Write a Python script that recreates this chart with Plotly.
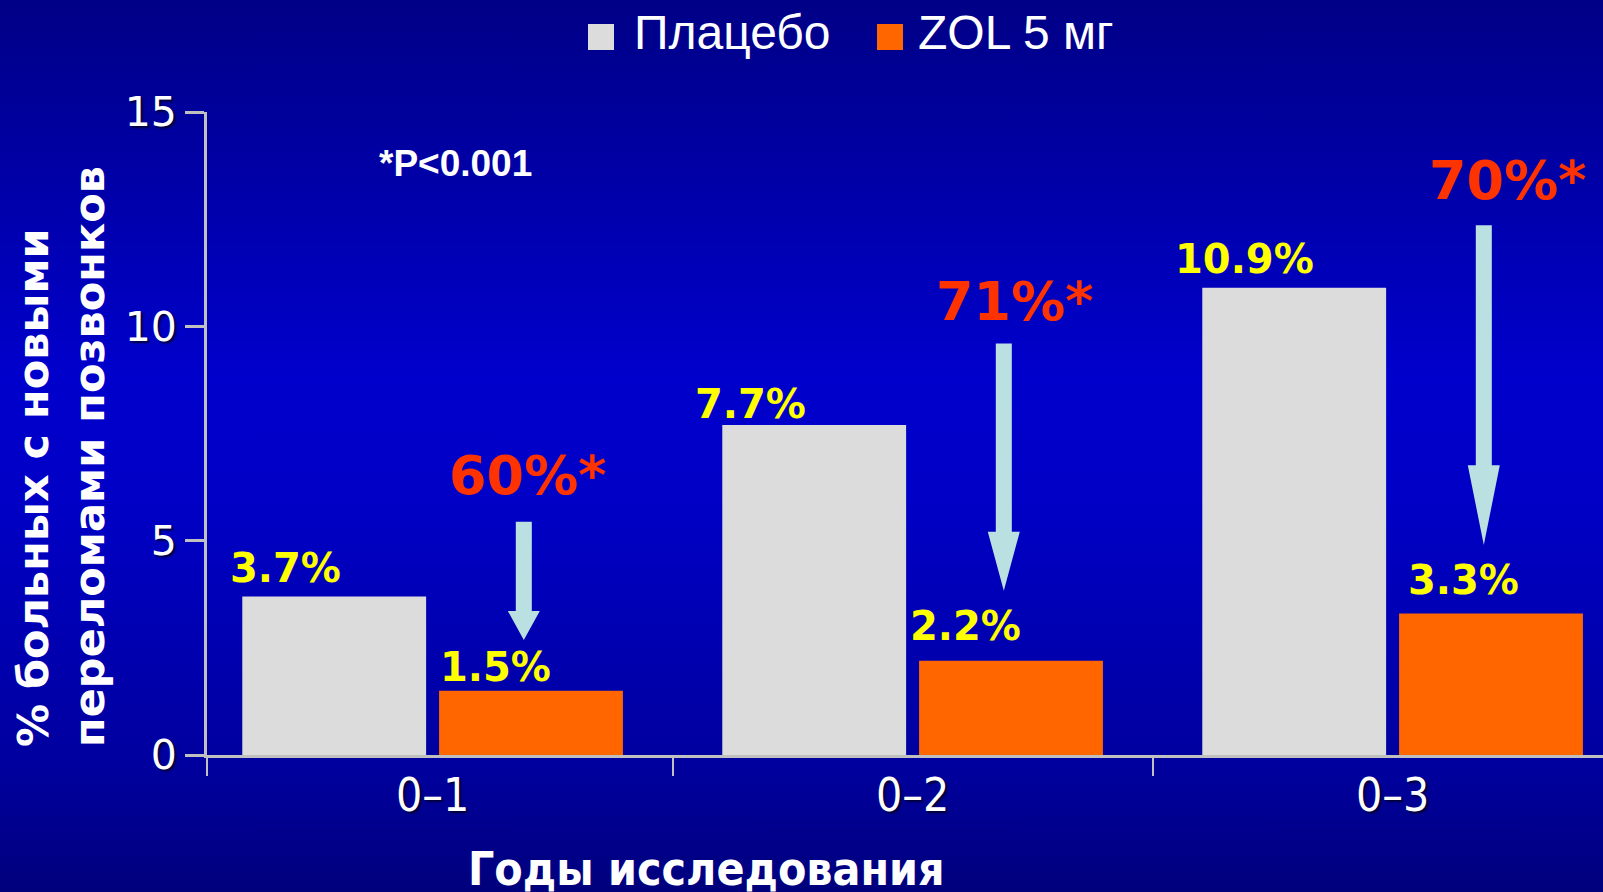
import base64
import plotly.graph_objects as go

# ---- data -------------------------------------------------------------
periods = ["0–1", "0–2", "0–3"]
placebo = [3.7, 7.7, 10.9]
zol = [1.5, 2.2, 3.3]
reduction = [60, 71, 70]
series_names = ["Плацебо", "ZOL 5 мг"]
y_ticks = [0, 5, 10, 15]

# ---- geometry / style --------------------------------------------------
W, H = 1603, 892
ML, MR, MT, MB = 207, 0, 112, 137
PW, PH = W - ML - MR, H - MT - MB
PX_PER_CAT = 480
X0 = -0.47
X1 = X0 + PW / PX_PER_CAT
Y0, Y1 = 0, 15

GREY = "#dcdcdc"
ORANGE = "#ff6600"
AXIS = "#c0c0c0"
YELLOW = "#ffff00"
RED = "#ff3300"
ARROW = "#bbe0e1"

BAR_W = 0.383
GAP = 0.027

BOLD = "DejaVu Sans, Verdana, sans-serif"
COND = "DejaVu Sans Condensed, DejaVu Sans, sans-serif"
ARIAL = "Liberation Sans, Arial, sans-serif"
SHADOW = "2px 2px 2px rgba(0,0,40,0.85)"


def px_x(px):
    return (px - ML) / PW


def px_y(py):
    return (H - MB - py) / PH


fig = go.Figure()

# bars
fig.add_trace(go.Bar(
    x=list(range(len(periods))), y=placebo, name=series_names[0],
    marker=dict(color=GREY, line=dict(width=0)),
    width=BAR_W, offset=-BAR_W - GAP / 2, showlegend=False,
))
fig.add_trace(go.Bar(
    x=list(range(len(periods))), y=zol, name=series_names[1],
    marker=dict(color=ORANGE, line=dict(width=0)),
    width=BAR_W, offset=GAP / 2, showlegend=False,
))

annotations = []
shapes = []

# value labels over the bars
placebo_dx = [-0.306, -0.337, -0.308]
placebo_dy = [28, 21, 29]
zol_dx = [0.131, 0.110, 0.148]
zol_dy = [24, 35, 34]
label_font = dict(family=BOLD, size=40, color=YELLOW, weight="bold")
for i, v in enumerate(placebo):
    annotations.append(dict(
        x=i + placebo_dx[i], y=v, xref="x", yref="y", text=f"{v}%",
        showarrow=False, xanchor="center", yanchor="middle",
        yshift=placebo_dy[i], font=label_font,
    ))
for i, v in enumerate(zol):
    annotations.append(dict(
        x=i + zol_dx[i], y=v, xref="x", yref="y", text=f"{v}%",
        showarrow=False, xanchor="center", yanchor="middle",
        yshift=zol_dy[i], font=label_font,
    ))

# relative risk reduction: label and down arrow per period
red_pos = [(0.199, 6.53), (1.213, 10.58), (2.24, 13.4)]
arrow_geom = [  # x centre, shaft top, head start, tip (data units)
    (0.19, 5.44, 3.36, 2.68),
    (1.19, 9.60, 5.21, 3.83),
    (2.19, 12.36, 6.76, 4.90),
]
shaft_hw = 8 / PX_PER_CAT
head_hw = 16 / PX_PER_CAT
for (rx, ry), r in zip(red_pos, reduction):
    annotations.append(dict(
        x=rx, y=ry, xref="x", yref="y", text=f"{r}%*", showarrow=False,
        xanchor="center", yanchor="middle",
        font=dict(family=BOLD, size=54, color=RED, weight="bold"),
    ))
for cx, top, head, tip in arrow_geom:
    path = (f"M{cx - shaft_hw},{top} L{cx + shaft_hw},{top} "
            f"L{cx + shaft_hw},{head} L{cx + head_hw},{head} "
            f"L{cx},{tip} L{cx - head_hw},{head} "
            f"L{cx - shaft_hw},{head} Z")
    shapes.append(dict(type="path", path=path, xref="x", yref="y",
                       fillcolor=ARROW, line=dict(width=0), layer="above"))

# significance note
annotations.append(dict(
    x=px_x(455), y=px_y(163), xref="paper", yref="paper",
    text="*P<0.001", showarrow=False, xanchor="center", yanchor="middle",
    font=dict(family=ARIAL, size=37, color="white", weight="bold"),
))

# legend row
legend_items = [(588, 632, GREY), (877, 916, ORANGE)]
for (sx, tx, col), name in zip(legend_items, series_names):
    shapes.append(dict(type="rect", xref="paper", yref="paper",
                       x0=px_x(sx), x1=px_x(sx + 26),
                       y0=px_y(50), y1=px_y(24),
                       fillcolor=col, line=dict(width=0)))
    annotations.append(dict(
        x=px_x(tx), y=px_y(32), xref="paper", yref="paper", text=name,
        showarrow=False, xanchor="left", yanchor="middle",
        font=dict(family=ARIAL, size=48, color="white"),
    ))

# axis titles
annotations.append(dict(
    x=px_x(61), y=px_y(457), xref="paper", yref="paper",
    text="% больных с новыми<br>переломами позвонков",
    textangle=-90, align="left", showarrow=False,
    xanchor="center", yanchor="middle",
    font=dict(family=BOLD, size=43, color="white", weight="bold"),
))
annotations.append(dict(
    x=px_x(706), y=px_y(869), xref="paper", yref="paper",
    text="Годы исследования", showarrow=False,
    xanchor="center", yanchor="middle",
    font=dict(family=COND, size=46, color="white", weight="bold"),
))

# vertical gradient backdrop
svg = (
    f'<svg xmlns="http://www.w3.org/2000/svg" width="{W}" height="{H}" '
    f'viewBox="0 0 {W} {H}" preserveAspectRatio="none">'
    '<defs><linearGradient id="g" x1="0" y1="0" x2="0" y2="1">'
    '<stop offset="0" stop-color="#000086"/>'
    '<stop offset="0.42" stop-color="#0000cc"/>'
    '<stop offset="0.56" stop-color="#0000c6"/>'
    '<stop offset="0.86" stop-color="#00009e"/>'
    '<stop offset="1" stop-color="#00007c"/>'
    '</linearGradient></defs>'
    f'<rect x="0" y="0" width="{W}" height="{H}" fill="url(#g)"/></svg>'
)
bg_src = "data:image/svg+xml;base64," + base64.b64encode(svg.encode()).decode()

fig.update_layout(
    width=W, height=H, autosize=False,
    margin=dict(l=ML, r=MR, t=MT, b=MB, pad=0),
    paper_bgcolor="#0000b0", plot_bgcolor="rgba(0,0,0,0)",
    barmode="overlay", showlegend=False,
    annotations=annotations, shapes=shapes,
    images=[dict(source=bg_src, xref="paper", yref="paper",
                 x=px_x(0), y=px_y(0), sizex=W / PW, sizey=H / PH,
                 xanchor="left", yanchor="top", sizing="stretch",
                 layer="below")],
    xaxis=dict(
        range=[X0, X1], tickmode="array",
        tickvals=list(range(len(periods))), ticktext=periods,
        ticks="", showgrid=False, zeroline=False,
        showline=True, linecolor=AXIS, linewidth=3,
        tickfont=dict(family=COND, size=46, color="white", shadow=SHADOW),
        ticklabelstandoff=-2,
        minor=dict(tickmode="array", tickvals=[X0, 0.5, 1.5],
                   ticks="outside", ticklen=18, tickwidth=2,
                   tickcolor=AXIS, showgrid=False),
    ),
    yaxis=dict(
        range=[Y0, Y1], tickmode="array", tickvals=y_ticks,
        ticks="outside", ticklen=19, tickwidth=3, tickcolor=AXIS,
        showgrid=False, zeroline=False,
        showline=True, linecolor=AXIS, linewidth=3,
        tickfont=dict(family="DejaVu Sans, Verdana, sans-serif", size=41,
                      color="white", shadow=SHADOW),
        ticklabelstandoff=0,
    ),
)

fig.write_html("out.html")
